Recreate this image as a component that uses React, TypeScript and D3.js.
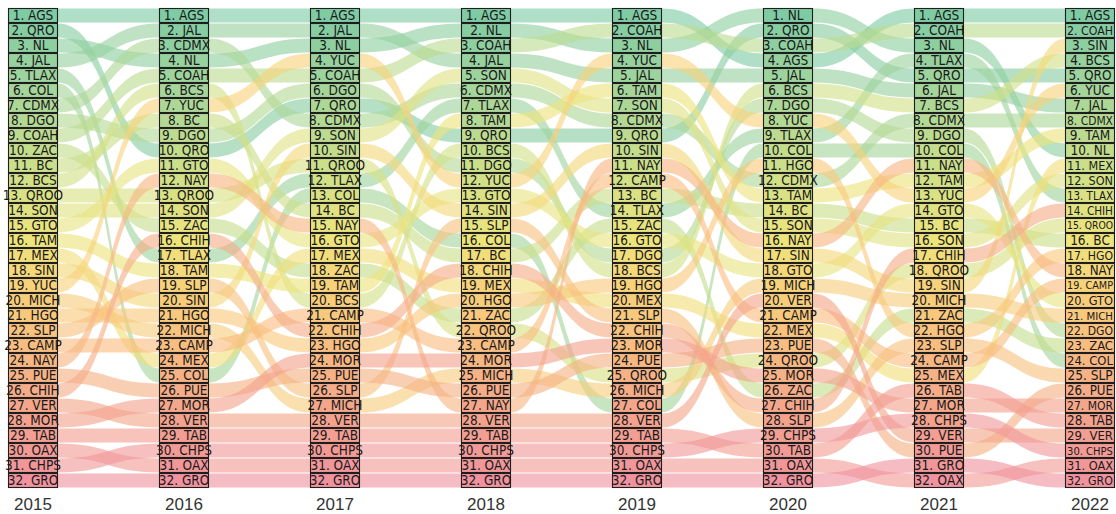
import * as d3 from 'd3';

import React, { useEffect, useRef } from 'react';

const years = ['2015', '2016', '2017', '2018', '2019', '2020', '2021', '2022'];

// state order by rank (1..32) for each year
const rank2015 = ['AGS', 'QRO', 'NL', 'JAL', 'TLAX', 'COL', 'CDMX', 'DGO', 'COAH', 'ZAC', 'BC', 'BCS', 'QROO', 'SON', 'GTO', 'TAM', 'MEX', 'SIN', 'YUC', 'MICH', 'HGO', 'SLP', 'CAMP', 'NAY', 'PUE', 'CHIH', 'VER', 'MOR', 'TAB', 'OAX', 'CHPS', 'GRO'];
const rank2016 = ['AGS', 'JAL', 'CDMX', 'NL', 'COAH', 'BCS', 'YUC', 'BC', 'DGO', 'QRO', 'GTO', 'NAY', 'QROO', 'SON', 'ZAC', 'CHIH', 'TLAX', 'TAM', 'SLP', 'SIN', 'HGO', 'MICH', 'CAMP', 'MEX', 'COL', 'PUE', 'MOR', 'VER', 'TAB', 'CHPS', 'OAX', 'GRO'];
const rank2017 = ['AGS', 'JAL', 'NL', 'YUC', 'COAH', 'DGO', 'QRO', 'CDMX', 'SON', 'SIN', 'QROO', 'TLAX', 'COL', 'BC', 'NAY', 'GTO', 'MEX', 'ZAC', 'TAM', 'BCS', 'CAMP', 'CHIH', 'HGO', 'MOR', 'PUE', 'SLP', 'MICH', 'VER', 'TAB', 'CHPS', 'OAX', 'GRO'];
const rank2018 = ['AGS', 'NL', 'COAH', 'JAL', 'SON', 'CDMX', 'TLAX', 'TAM', 'QRO', 'BCS', 'DGO', 'YUC', 'GTO', 'SIN', 'SLP', 'COL', 'BC', 'CHIH', 'MEX', 'HGO', 'ZAC', 'QROO', 'CAMP', 'MOR', 'MICH', 'PUE', 'NAY', 'VER', 'TAB', 'CHPS', 'OAX', 'GRO'];
const rank2019 = ['AGS', 'COAH', 'NL', 'YUC', 'JAL', 'TAM', 'SON', 'CDMX', 'QRO', 'SIN', 'NAY', 'CAMP', 'BC', 'TLAX', 'ZAC', 'GTO', 'DGO', 'BCS', 'HGO', 'MEX', 'SLP', 'CHIH', 'MOR', 'PUE', 'QROO', 'MICH', 'COL', 'VER', 'TAB', 'CHPS', 'OAX', 'GRO'];
const rank2020 = ['NL', 'QRO', 'COAH', 'AGS', 'JAL', 'BCS', 'DGO', 'YUC', 'TLAX', 'COL', 'HGO', 'CDMX', 'TAM', 'BC', 'SON', 'NAY', 'SIN', 'GTO', 'MICH', 'VER', 'CAMP', 'MEX', 'PUE', 'QROO', 'MOR', 'ZAC', 'CHIH', 'SLP', 'CHPS', 'TAB', 'OAX', 'GRO'];
const rank2021 = ['AGS', 'COAH', 'NL', 'TLAX', 'QRO', 'JAL', 'BCS', 'CDMX', 'DGO', 'COL', 'NAY', 'TAM', 'YUC', 'GTO', 'BC', 'SON', 'CHIH', 'QROO', 'SIN', 'MICH', 'ZAC', 'HGO', 'SLP', 'CAMP', 'MEX', 'TAB', 'MOR', 'CHPS', 'VER', 'PUE', 'GRO', 'OAX'];
const rank2022 = ['AGS', 'COAH', 'SIN', 'BCS', 'QRO', 'YUC', 'JAL', 'CDMX', 'TAM', 'NL', 'MEX', 'SON', 'TLAX', 'CHIH', 'QROO', 'BC', 'HGO', 'NAY', 'CAMP', 'GTO', 'MICH', 'DGO', 'ZAC', 'COL', 'SLP', 'PUE', 'MOR', 'TAB', 'VER', 'CHPS', 'OAX', 'GRO'];

const rankings = [rank2015, rank2016, rank2017, rank2018, rank2019, rank2020, rank2021, rank2022];

const colorRanks = [1, 6, 11, 16, 19, 23, 27, 32];
const colorStops = ['#7fcba4', '#a5d59a', '#cbdf8a', '#eee47c', '#f7d27a', '#f8bd80', '#f4a68a', '#f0939e'];

const width = 1116;
const height = 514;
const boxW = 50;
const labelSize = 13.5;

export default function App() {
  const ref = useRef(null);

  useEffect(() => {
    const svg = d3.select(ref.current);
    svg.selectAll('*').remove();

    const x = d3.scalePoint<string>().domain(years).range([8, 1065]);
    const y = d3
      .scaleBand<number>()
      .domain(d3.range(1, 33))
      .range([8, 488]);
    const color = d3.scaleLinear<string>().domain(colorRanks).range(colorStops);

    const rankOf = rankings.map((list) => new Map(list.map((s, i) => [s, i + 1])));
    const h = y.bandwidth();

    const area = d3
      .area<{ x: number; r: number }>()
      .x((d) => d.x)
      .y0((d) => (y(d.r) ?? 0) + 0.5)
      .y1((d) => (y(d.r) ?? 0) + h - 0.5)
      .curve(d3.curveBumpX);

    const ribbons = svg.append('g');
    rank2015.forEach((state, si) => {
      for (let i = 0; i < years.length - 1; i++) {
        const pts = [
          { x: (x(years[i]) ?? 0) + boxW / 2, r: rankOf[i].get(state) ?? 0 },
          { x: (x(years[i]) ?? 0) + boxW, r: rankOf[i].get(state) ?? 0 },
          { x: x(years[i + 1]) ?? 0, r: rankOf[i + 1].get(state) ?? 0 },
          { x: (x(years[i + 1]) ?? 0) + boxW / 2, r: rankOf[i + 1].get(state) ?? 0 },
        ];
        ribbons
          .append('path')
          .attr('d', area(pts))
          .attr('fill', color(si + 1))
          .attr('fill-opacity', 0.62);
      }
    });

    years.forEach((year, i) => {
      const col = svg.append('g').attr('transform', `translate(${x(year)},0)`);
      const cells = col
        .selectAll('g')
        .data(rankings[i])
        .join('g')
        .attr('transform', (d, j) => `translate(0,${y(j + 1)})`);
      cells
        .append('rect')
        .attr('x', 0.5)
        .attr('y', 0.5)
        .attr('width', boxW - 1)
        .attr('height', h - 1)
        .attr('fill', (d, j) => color(j + 1))
        .attr('stroke', '#1e1e1e')
        .attr('stroke-width', 1.1);

      const isLast = i === years.length - 1;
      cells
        .append('text')
        .attr('x', boxW / 2)
        .attr('y', h / 2)
        .attr('dy', '0.36em')
        .attr('text-anchor', 'middle')
        .attr('font-family', "'Liberation Sans Narrow', 'DejaVu Sans Condensed', 'Arial Narrow', sans-serif")
        .attr('font-size', labelSize)
        .attr('fill', '#1a1a1a')
        .text((d, j) => `${j + 1}. ${d}`)
        .each(function () {
          // last column sits on the page edge: shrink long labels so they stay inside
          if (!isLast) return;
          const t = this as SVGTextElement;
          const len = t.getComputedTextLength();
          const maxLen = boxW - 4;
          if (len > maxLen) d3.select(t).attr('font-size', (labelSize * maxLen) / len);
        });

      col
        .append('text')
        .attr('x', boxW / 2)
        .attr('y', 510)
        .attr('text-anchor', 'middle')
        .attr('font-family', "'Liberation Sans', sans-serif")
        .attr('font-size', 17)
        .attr('fill', '#333')
        .text(year);
    });
  }, []);

  return (
    <svg
      ref={ref}
      width={width}
      height={height}
      style={{ position: 'absolute', left: 0, top: 0, background: '#fff' }}
    ></svg>
  );
}
